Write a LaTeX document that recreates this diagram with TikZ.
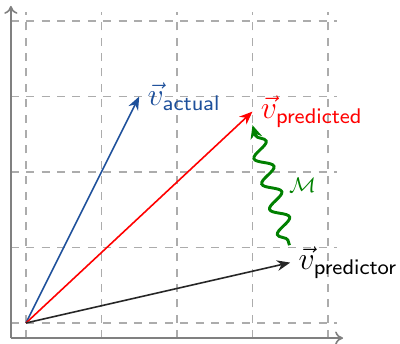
\documentclass[tikz,border=0pt]{standalone}
\usetikzlibrary{arrows.meta,decorations.pathmorphing}
\definecolor{actualblue}{RGB}{30,80,155}
\definecolor{mgreen}{RGB}{0,128,0}
\begin{document}
\begin{tikzpicture}[x=1cm,y=1cm,
  gridline/.style={gray!65, dash pattern=on 3pt off 2.8pt, line width=0.5pt},
  axisline/.style={gray, line width=0.6pt, -{To[length=3pt,width=5pt]}},
  vecline/.style={line width=0.6pt, -{Stealth[length=5pt,width=4pt]}},
  lbl/.style={anchor=west, inner sep=3pt, font=\fontsize{12}{14}\selectfont},
]
\useasboundingbox (-0.344,-0.265) rectangle (4.954,4.278);
\draw[gridline] (-0.2,-0.2) grid (4.12,4.12);
\coordinate (xs) at (-0.2,-0.2);
\coordinate (xe) at (4.2,-0.2);
\coordinate (ye) at (-0.2,4.2);
\draw[axisline] (xs) -- (xe);
\draw[axisline] (xs) -- (ye);
\coordinate (O) at (0,0);
\coordinate (A) at (1.5,3);
\coordinate (P) at (3,2.8);
\coordinate (R) at (3.5,0.8);
\coordinate (Ms) at (3.49,1.03);
\coordinate (Me) at (3.0,2.62);
\node[lbl, text=actualblue] (la) at (A) {$\vec{v}_{\mathsf{actual}}$};
\node[lbl, text=red] (lp) at (P) {$\vec{v}_{\mathsf{predicted}}$};
\node[lbl, text=black] (lr) at (R) {$\vec{v}_{\mathsf{predictor}}$};
\draw[vecline, actualblue] (O) -- (A);
\draw[vecline, red] (O) -- (P);
\draw[vecline, black!85] (O) -- (R);
\draw[mgreen, line width=1.1pt, -{Stealth[length=5pt,width=4.5pt]},
  decorate, decoration={snake, amplitude=3.2pt, segment length=10pt, pre length=2pt, post length=4pt}]
  (Ms) -- (Me) node[midway, right=3pt, text=mgreen, font=\fontsize{8}{9}\selectfont] (lm) {$\mathcal{M}$};
\end{tikzpicture}
\end{document}
